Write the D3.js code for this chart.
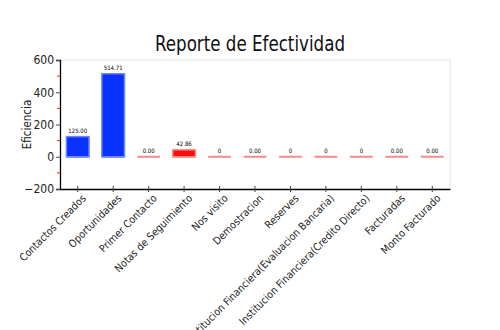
<!DOCTYPE html>
<html>
<head>
<meta charset="utf-8">
<script src="https://cdn.jsdelivr.net/npm/d3@7"></script>
<style>
  html, body { margin: 0; padding: 0; background: #fff; }
  svg text { font-family: "DejaVu Sans Condensed", "DejaVu Sans", sans-serif; font-stretch: condensed; }
</style>
</head>
<body>
<svg id="chart" width="500" height="330"></svg>
<script>
// Funnel stages and their efficiency values
const categories = [
  "Contactos Creados", "Oportunidades", "Primer Contacto", "Notas de Seguimiento",
  "Nos visito", "Demostracion", "Reserves",
  "Institucion Financiera(Evaluacion Bancaria)", "Institucion Financiera(Credito Directo)",
  "Facturadas", "Monto Facturado"
];
const values = [125.00, 514.71, 0, 42.86, 0, 0, 0, 0, 0, 0, 0];
const valueLabels = ["125.00", "514.71", "0.00", "42.86", "0", "0.00", "0", "0", "0", "0.00", "0.00"];
const barGroups = ["blue", "blue", "red", "red", "red", "red", "red", "red", "red", "red", "red"];
const yTicks = [-200, 0, 200, 400, 600];
const yMinorTicks = [-100, 100, 300, 500];

const fills = { blue: "#0a32ff", red: "#ff0a0a" };
const strokes = { blue: "#6d86ff", red: "#f58a8a" };

const svg = d3.select("#chart");
const plot = { left: 60, right: 450, top: 60, bottom: 189 };

const x = d3.scaleBand().domain(categories).range([plot.left, plot.right]).paddingInner(0.36).paddingOuter(0.18);
const y = d3.scaleLinear().domain([-200, 600]).range([plot.bottom, plot.top]);

// plot frame (top and right)
svg.append("path")
  .attr("d", `M${plot.left},${plot.top}H${plot.right}V${plot.bottom}`)
  .attr("fill", "none").attr("stroke", "#e6e6e6").attr("stroke-width", 1);

// baseline strip under each bar (visible for zero values)
svg.append("g").selectAll("line").data(values).join("line")
  .attr("x1", (d, i) => x(categories[i]))
  .attr("x2", (d, i) => x(categories[i]) + x.bandwidth())
  .attr("y1", y(0)).attr("y2", y(0))
  .attr("stroke", (d, i) => strokes[barGroups[i]])
  .attr("stroke-width", 2);

// bars
svg.append("g").selectAll("rect").data(values).join("rect")
  .attr("x", (d, i) => x(categories[i]))
  .attr("width", x.bandwidth())
  .attr("y", d => y(Math.max(0, d)))
  .attr("height", d => Math.abs(y(d) - y(0)))
  .attr("fill", (d, i) => fills[barGroups[i]])
  .attr("stroke", (d, i) => strokes[barGroups[i]])
  .attr("stroke-width", 1.5);

// value labels
svg.append("g").selectAll("text").data(values).join("text")
  .attr("x", (d, i) => x(categories[i]) + x.bandwidth() / 2)
  .attr("y", d => y(Math.max(0, d)) - 4)
  .attr("text-anchor", "middle")
  .attr("font-size", 6)
  .attr("fill", "#000")
  .text((d, i) => valueLabels[i]);

// y axis
const yAxis = svg.append("g").attr("transform", `translate(${plot.left},0)`)
  .call(d3.axisLeft(y).tickValues(yTicks).tickSize(4).tickPadding(2).tickFormat(d3.format("d")));
yAxis.select(".domain").attr("stroke", "#000").attr("stroke-width", 1.3);
yAxis.selectAll(".tick line").attr("x2", 0).attr("x1", -4).attr("stroke", "#444");
yAxis.selectAll(".tick text").attr("font-size", 12).attr("fill", "#222");

svg.append("g").selectAll("line").data(yMinorTicks).join("line")
  .attr("x1", plot.left - 3).attr("x2", plot.left)
  .attr("y1", d => y(d)).attr("y2", d => y(d))
  .attr("stroke", "#ff2020").attr("stroke-width", 1);

// x axis
const xAxis = svg.append("g").attr("transform", `translate(0,${plot.bottom})`)
  .call(d3.axisBottom(x).tickSize(4).tickSizeOuter(0));
xAxis.select(".domain").attr("stroke", "#000").attr("stroke-width", 1.3);
xAxis.selectAll(".tick line").attr("y1", -3).attr("y2", 3).attr("stroke", "#444");
xAxis.selectAll(".tick text")
  .attr("font-size", 10.5)
  .attr("fill", "#222")
  .attr("text-anchor", "end")
  .attr("dy", 0)
  .attr("transform", "translate(4,5) rotate(-45)");

// axis title
svg.append("text")
  .attr("transform", `translate(31,${(plot.top + plot.bottom) / 2}) rotate(-90)`)
  .attr("text-anchor", "middle")
  .attr("font-size", 11.5)
  .attr("fill", "#222")
  .text("Eficiencia");

// chart title
svg.append("text")
  .attr("x", 250).attr("y", 51)
  .attr("text-anchor", "middle")
  .attr("font-size", 21)
  .attr("textLength", 190)
  .attr("lengthAdjust", "spacingAndGlyphs")
  .attr("fill", "#111")
  .text("Reporte de Efectividad");
</script>
</body>
</html>
